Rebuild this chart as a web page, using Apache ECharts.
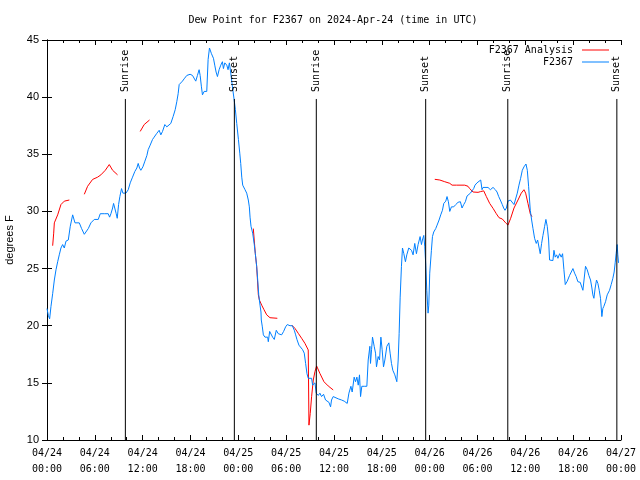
<!DOCTYPE html>
<html><head><meta charset="utf-8">
<script src="https://cdn.jsdelivr.net/npm/echarts@6/dist/echarts.min.js"></script>
<style>html,body{margin:0;padding:0;background:#fff}#c{width:640px;height:480px}</style>
</head><body><div id="c"></div>
<script>
// hours since 2024-04-24 00:00 UTC
var obsHours = [0.00,0.17,0.33,0.50,0.71,0.92,1.13,1.34,1.54,1.75,1.96,2.17,2.38,2.67,2.92,3.22,3.34,3.51,4.05,4.34,4.68,4.93,5.18,5.51,5.93,6.43,6.68,7.18,7.68,7.85,8.02,8.23,8.35,8.56,8.68,8.81,8.98,9.14,9.35,9.52,9.90,10.19,10.44,10.73,11.02,11.27,11.44,11.61,11.77,12.03,12.28,12.53,12.69,12.94,13.24,13.44,13.74,14.07,14.28,14.49,14.78,15.03,15.24,15.53,15.82,16.08,16.28,16.45,16.58,16.78,16.99,17.20,17.54,17.95,18.25,18.46,18.66,18.87,19.08,19.21,19.37,19.50,19.71,20.04,20.21,20.38,20.63,20.88,21.04,21.21,21.38,21.59,21.80,22.00,22.13,22.30,22.55,22.71,22.88,23.05,23.26,23.47,23.63,23.80,24.01,24.18,24.30,24.43,24.55,24.84,25.05,25.25,25.38,25.47,25.59,25.80,26.00,26.13,26.30,26.43,26.56,26.72,26.84,26.88,27.01,27.14,27.34,27.68,27.76,27.93,28.10,28.30,28.51,28.64,28.76,29.01,29.43,29.68,29.93,30.14,30.48,30.77,31.02,31.19,31.35,31.60,31.85,32.06,32.27,32.44,32.61,32.77,32.98,33.19,33.32,33.52,33.61,33.77,34.03,34.23,34.44,34.69,34.94,35.19,35.36,35.57,35.69,35.90,36.11,36.53,36.95,37.28,37.66,37.87,38.12,38.28,38.53,38.70,38.87,39.04,39.20,39.33,39.49,39.79,40.12,40.29,40.50,40.58,40.71,40.83,41.04,41.21,41.33,41.54,41.71,41.88,42.04,42.21,42.38,42.63,42.88,43.04,43.21,43.38,43.63,43.88,44.05,44.17,44.30,44.46,44.59,44.76,44.96,45.13,45.38,45.72,45.92,46.13,46.34,46.55,46.80,46.97,47.09,47.26,47.39,47.51,47.64,47.80,47.89,48.01,48.22,48.35,48.51,48.76,48.93,49.18,49.39,49.60,49.77,50.02,50.18,50.35,50.52,50.73,51.02,51.27,51.56,51.85,52.06,52.27,52.48,52.69,52.90,53.11,53.32,53.52,53.69,53.94,54.19,54.40,54.57,54.69,54.94,55.32,55.61,55.95,56.24,56.45,56.66,56.86,57.11,57.28,57.45,57.62,57.82,58.12,58.37,58.58,58.78,58.99,59.20,59.41,59.62,59.83,60.08,60.25,60.41,60.62,60.79,60.96,61.16,61.37,61.54,61.71,61.87,62.04,62.21,62.42,62.58,62.75,62.92,63.04,63.25,63.46,63.59,63.75,63.92,64.09,64.30,64.50,64.67,64.84,65.01,65.26,65.55,65.76,65.97,66.18,66.38,66.59,66.88,67.09,67.22,67.43,67.55,67.76,67.97,68.18,68.35,68.47,68.60,68.76,68.93,69.10,69.27,69.43,69.60,69.72,69.85,70.06,70.27,70.56,70.77,70.98,71.14,71.27,71.39,71.52,71.60,71.69];
var obsDew = [21.5,20.9,20.6,21.7,22.8,24.0,24.9,25.6,26.2,26.8,27.1,26.8,27.4,27.5,28.7,29.7,29.8,29.0,29.0,28.5,28.0,28.0,28.5,29.0,29.3,29.3,29.8,29.8,29.8,29.5,29.8,30.3,30.7,30.7,29.8,29.4,30.6,31.3,32.0,31.6,31.6,31.9,32.5,33.0,33.5,33.8,34.2,33.8,33.6,33.9,34.4,34.9,35.4,35.8,36.3,36.5,36.8,37.1,36.7,37.0,37.6,37.4,37.3,37.7,38.3,38.9,39.6,40.3,41.1,41.2,41.4,41.6,41.9,42.0,41.9,41.8,41.4,41.9,42.4,41.9,40.9,40.2,40.5,40.5,43.3,44.3,43.8,43.4,42.8,42.2,41.8,42.4,42.8,43.1,42.5,43.0,42.8,42.4,43.0,42.1,40.9,39.8,38.9,37.7,36.3,35.1,34.2,33.0,32.3,31.9,31.6,31.0,30.4,29.5,28.7,28.1,27.1,26.3,25.2,24.0,22.7,21.8,21.2,20.5,19.9,19.2,19.0,19.0,18.6,19.5,19.6,19.0,18.8,18.7,19.6,19.3,19.2,19.5,19.9,20.1,20.0,20.0,19.6,19.2,18.8,18.3,18.2,17.9,17.6,16.7,15.8,15.4,15.3,15.4,14.8,14.7,15.0,14.1,13.9,14.1,13.8,14.0,13.5,13.6,13.3,12.9,13.5,13.8,13.9,13.6,13.5,13.4,13.2,14.1,14.7,14.2,15.5,15.1,15.5,14.8,15.7,13.8,14.7,14.7,14.7,17.0,18.2,16.7,17.9,19.0,18.2,17.6,16.4,17.3,17.0,19.0,17.9,16.4,17.0,18.2,18.5,17.6,16.7,16.1,15.7,15.1,17.0,19.3,22.5,25.2,26.8,26.3,25.6,26.2,26.8,26.6,26.2,27.2,26.3,27.1,27.8,27.1,27.5,27.9,26.9,25.3,23.1,21.1,21.8,24.6,26.6,27.8,28.2,28.5,28.8,29.25,29.7,30.1,30.7,30.9,31.3,30.85,30.0,30.4,30.4,30.6,30.8,30.85,30.3,30.6,30.85,31.35,31.3,31.6,31.7,32.0,32.3,32.5,32.6,32.75,31.9,32.1,32.1,32.1,31.9,32.1,31.9,31.7,31.3,31.0,30.6,30.3,30.1,30.3,30.9,31.0,30.9,30.6,30.7,31.6,32.3,32.9,33.6,33.9,34.15,33.6,32.2,30.1,29.25,28.5,27.65,27.2,27.5,27.35,26.3,27.2,27.9,28.7,29.3,28.7,27.5,25.75,25.7,25.7,26.6,26.0,26.2,25.9,26.3,26.0,26.3,24.9,23.6,23.9,24.4,24.7,25.0,24.6,24.3,23.85,23.8,23.85,23.1,23.1,25.2,24.9,24.4,24.0,23.3,22.7,22.4,23.3,24.0,23.7,23.1,22.4,20.8,21.5,21.7,22.1,22.7,23.1,23.6,24.15,24.7,25.5,26.3,27.1,26.2,25.5];

// analysis series; null marks a gap
var anaHours = [0.71,0.84,0.92,1.34,1.75,2.17,2.80,3.5, 4.68,5.09,5.72,6.35,6.76,7.31,7.81,8.23,8.85,10, 11.69,12.19,12.86,20, 25.88,26.13,26.30,26.51,26.64,26.93,27.22,27.56,27.97,28.89,29.8, 30.69,31.10,31.52,31.94,32.35,32.77,32.86,33.02,33.19,33.40,33.61,33.82,34.23,34.74,35.27,35.90,40, 48.64,49.27,49.89,50.52,50.81,51.35,52.40,52.81,53.02,53.44,53.65,54.07,54.36,54.78,55.11,55.53,55.95,56.36,56.70,57.11,57.53,57.82,58.16,58.58,59.08,59.49,59.83,60.04,60.33,60.62,60.83];
var anaDew = [27.0,28.1,29.0,29.7,30.6,30.9,31.0,null, 31.5,32.2,32.8,33.0,33.2,33.6,34.1,33.6,33.2,null, 37.0,37.6,38.0,null, 28.5,26.3,25.2,22.7,22.25,21.8,21.4,20.95,20.7,20.65,null, 20.06,19.77,19.33,18.9,18.46,17.88,11.3,12.33,13.79,15.25,15.98,16.48,15.83,15.1,14.73,14.38,null, 32.81,32.75,32.6,32.46,32.3,32.3,32.3,32.2,32.0,31.7,31.6,31.67,31.73,31.8,31.3,30.7,30.27,29.8,29.45,29.34,29.0,28.8,29.4,30.3,31.0,31.6,31.9,31.6,30.7,29.8,29.54];

var eventNames = ['Sunrise','Sunset','Sunrise','Sunset','Sunrise','Sunset'];
var eventHours = [9.83, 23.5, 33.78, 47.5, 57.8, 71.48];

var xTickHours = [0,6,12,18,24,30,36,42,48,54,60,66,72];
var xTickDates = ['04/24','04/24','04/24','04/24','04/25','04/25','04/25','04/25','04/26','04/26','04/26','04/26','04/27'];
var xTickTimes = ['00:00','06:00','12:00','18:00','00:00','06:00','12:00','18:00','00:00','06:00','12:00','18:00','00:00'];

var MONO = 'DejaVu Sans Mono';
var SANS = 'Liberation Sans';

var obsData = obsHours.map(function(h,i){return [h, obsDew[i]];});
var anaData = anaHours.map(function(h,i){return [h, anaDew[i]===null ? '-' : anaDew[i]];});
var evData = eventHours.map(function(h){return [h, 10];});

var chart = echarts.init(document.getElementById('c'), null, {renderer:'canvas'});
var tickStyle = {show:true, inside:true, length:5, lineStyle:{color:'#000', width:1}};
var minorStyle = {show:true, splitNumber:3, length:3, lineStyle:{color:'#000', width:1}};
chart.setOption({
  animation:false,
  backgroundColor:'#fff',
  title:{text:'Dew Point for F2367 on 2024-Apr-24 (time in UTC)', left:333, top:15, textAlign:'center', padding:0,
    textStyle:{fontFamily:MONO, fontSize:10, fontWeight:'normal', color:'#000'}},
  legend:[
    {data:['F2367 Analysis'], right:31, top:45, padding:0, orient:'vertical', align:'right', icon:'rect', itemWidth:27, itemHeight:1,
     textStyle:{fontFamily:MONO, fontSize:10, color:'#000', padding:[0,4,0,0]}, selectedMode:false},
    {data:['F2367'], right:31, top:57, padding:0, orient:'vertical', align:'right', icon:'rect', itemWidth:27, itemHeight:1,
     textStyle:{fontFamily:MONO, fontSize:10, color:'#000', padding:[0,4,0,0]}, selectedMode:false}
  ],
  grid:{left:47, right:19, top:40, bottom:40, containLabel:false, outerBoundsMode:'none'},
  xAxis:[
    {type:'value', min:0, max:72, interval:6, position:'bottom',
     axisLine:{lineStyle:{color:'#000', width:1}}, axisTick:tickStyle, minorTick:minorStyle,
     splitLine:{show:false},
     axisLabel:{margin:5, lineHeight:16, fontFamily:MONO, fontSize:10, color:'#000', showMaxLabel:true, showMinLabel:true,
       formatter:function(v){var i=xTickHours.indexOf(v); return i<0?'':xTickDates[i]+'\n'+xTickTimes[i];}}},
    {type:'value', min:0, max:72, interval:6, position:'top',
     axisLine:{lineStyle:{color:'#000', width:1}}, axisTick:tickStyle, minorTick:minorStyle,
     splitLine:{show:false}, axisLabel:{show:false}}
  ],
  yAxis:[
    {type:'value', min:10, max:45, interval:5, position:'left',
     name:'degrees F', nameLocation:'middle', nameGap:31, nameRotate:90,
     nameTextStyle:{fontFamily:SANS, fontSize:11, color:'#000'},
     axisLine:{show:true, lineStyle:{color:'#000', width:1}}, axisTick:tickStyle,
     splitLine:{show:false},
     axisLabel:{margin:8, fontFamily:SANS, fontSize:11, color:'#000'}},
    {type:'value', min:10, max:45, interval:5, position:'right',
     axisLine:{show:true, lineStyle:{color:'#000', width:1}}, axisTick:tickStyle,
     splitLine:{show:false}, axisLabel:{show:false}}
  ],
  series:[
    {name:'F2367 Analysis', type:'line', data:anaData, showSymbol:false, symbol:'none', connectNulls:false,
     lineStyle:{color:'#ff0000', width:1}, itemStyle:{color:'#ff0000'}, z:2},
    {name:'F2367', type:'line', data:obsData, showSymbol:false, symbol:'none',
     lineStyle:{color:'#0080ff', width:1}, itemStyle:{color:'#0080ff'}, z:3},
    {name:'events', type:'custom', data:evData, encode:{x:0, y:1}, z:5, clip:false,
     renderItem:function(params, api){
       var h = api.value(0);
       var bot = api.coord([h, 10]);
       var top = api.coord([h, 39.84]);
       return {type:'group', children:[
         {type:'line', shape:{x1:bot[0], y1:bot[1], x2:top[0], y2:top[1]}, style:{stroke:'#000', lineWidth:1}},
         {type:'text', x:top[0], y:top[1]-7, rotation:Math.PI/2,
          style:{text:eventNames[params.dataIndex], fill:'#000', font:'10px "'+MONO+'"', align:'left', verticalAlign:'middle'}}
       ]};
     }}
  ]
});
</script></body></html>
